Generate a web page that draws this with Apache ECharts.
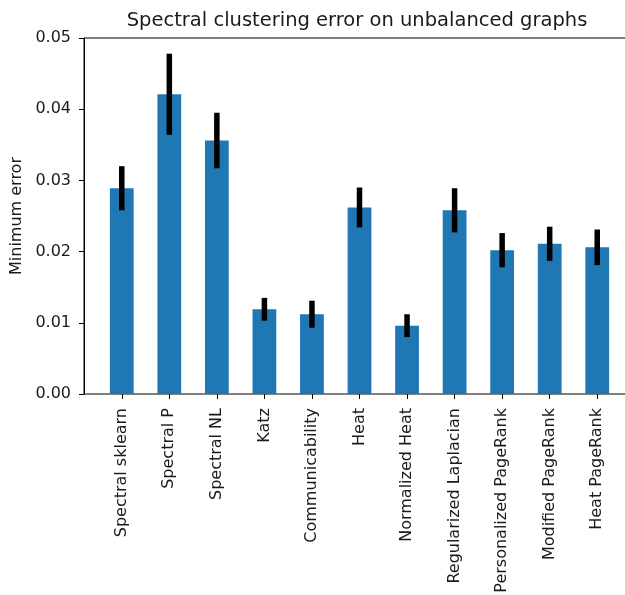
<!DOCTYPE html>
<html>
<head>
<meta charset="utf-8">
<script src="https://cdn.jsdelivr.net/npm/echarts@6/dist/echarts.min.js"></script>
<style>html,body{margin:0;padding:0;background:#fff;}#c{width:625px;height:595px;}</style>
</head>
<body>
<div id="c"></div>
<script>
const categories = ["Spectral sklearn","Spectral P","Spectral NL","Katz","Communicability","Heat","Normalized Heat","Regularized Laplacian","Personalized PageRank","Modified PageRank","Heat PageRank"];
const values = [0.0289,0.0421,0.0356,0.0119,0.0112,0.0262,0.0096,0.0258,0.0202,0.0211,0.0206];
const errors = [0.0031,0.0057,0.0039,0.0016,0.0019,0.0028,0.0016,0.0031,0.0024,0.0024,0.0025];
const yTicks = [0,0.01,0.02,0.03,0.04,0.05];

const font = "DejaVu Sans";
const chart = echarts.init(document.getElementById('c'), null, {renderer:'canvas'});
chart.setOption({
  animation:false,
  backgroundColor:'#fff',
  title:{text:'Spectral clustering error on unbalanced graphs', left:352, top:6, textAlign:'center',
    textStyle:{fontFamily:font, fontSize:19.5, fontWeight:'normal', color:'#1a1a1a'}},
  grid:[
    {left:84, top:38, width:550, height:356, show:true, borderColor:'#000', borderWidth:1,
      backgroundColor:'transparent', containLabel:false, outerBoundsMode:'none'},
    {left:98, top:38, width:523, height:356, containLabel:false, outerBoundsMode:'none'}
  ],
  xAxis:[
    {gridIndex:0, type:'value', min:0, max:1, show:false},
    {gridIndex:1, type:'category', data:categories, boundaryGap:true,
      axisLine:{show:false},
      axisTick:{show:true, alignWithLabel:true, length:5, lineStyle:{color:'#000', width:1}},
      axisLabel:{rotate:90, margin:14, interval:0, fontFamily:font, fontSize:16, color:'#1a1a1a'}}
  ],
  yAxis:[
    {gridIndex:0, type:'value', min:yTicks[0], max:yTicks[yTicks.length-1], interval:0.01,
      name:'Minimum error', nameLocation:'middle', nameGap:57,
      nameTextStyle:{fontFamily:font, fontSize:16, color:'#1a1a1a'},
      axisLine:{show:true, lineStyle:{color:'#000', width:1}},
      axisTick:{show:true, length:5, lineStyle:{color:'#000', width:1}},
      splitLine:{show:false},
      axisLabel:{margin:13, fontFamily:font, fontSize:16, color:'#1a1a1a', formatter:v=>v.toFixed(2)}},
    {gridIndex:1, type:'value', min:yTicks[0], max:yTicks[yTicks.length-1], show:false}
  ],
  series:[
    {type:'bar', xAxisIndex:1, yAxisIndex:1, data:values, barWidth:'50%',
      itemStyle:{color:'#1f77b4'}},
    {type:'custom', xAxisIndex:1, yAxisIndex:1,
      data:values.map((v,i)=>[i, v-errors[i], v+errors[i]]),
      renderItem:function(params, api){
        const lo = api.coord([api.value(0), api.value(1)]);
        const hi = api.coord([api.value(0), api.value(2)]);
        return {type:'line', shape:{x1:lo[0], y1:lo[1], x2:hi[0], y2:hi[1]},
          style:{stroke:'#000', lineWidth:5.5, lineCap:'butt'}};
      }, z:5}
  ]
});
</script>
</body>
</html>
